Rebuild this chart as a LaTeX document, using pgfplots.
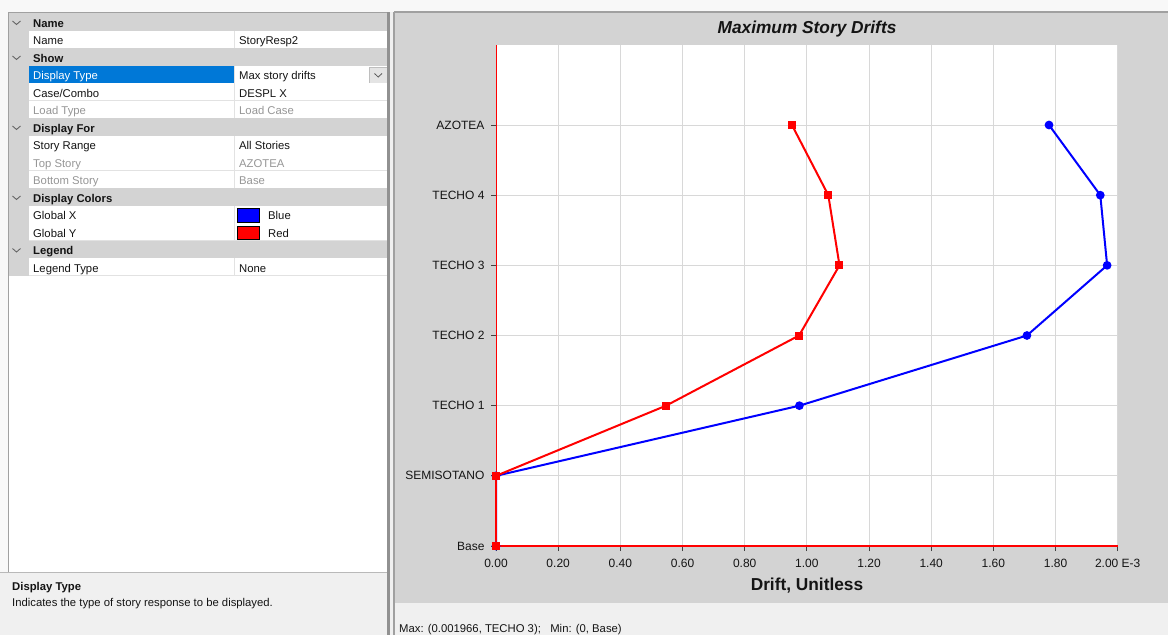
\documentclass[border=0pt]{standalone}
\usepackage{pgfplots}
\pgfplotsset{compat=1.18}
\usepackage{fontspec}
\setmainfont{Liberation Sans}

\definecolor{winbg}{RGB}{240,240,240}
\definecolor{pagebg}{RGB}{248,248,248}
\definecolor{panelgray}{RGB}{211,211,211}
\definecolor{rowline}{RGB}{226,226,226}
\definecolor{selblue}{RGB}{0,120,215}
\definecolor{dimtext}{RGB}{150,150,150}
\definecolor{frame}{RGB}{160,160,160}
\definecolor{splitter}{RGB}{145,145,145}
\definecolor{sepline}{RGB}{185,185,185}
\definecolor{btnfill}{RGB}{228,228,228}
\definecolor{btnedge}{RGB}{190,190,190}
\definecolor{gridg}{RGB}{216,216,216}
\definecolor{txt}{RGB}{20,20,20}

\newcommand\ui{\fontsize{11.3}{13}\selectfont}

% property grid: category header row (index, caption)
\newcommand\hdr[2]{%
  \fill[panelgray] (8,{13+17.5*#1}) rectangle (388,{30.5+17.5*#1});
  \draw[black!60, line width=0.9pt] (12.5,{21+17.5*#1}) -- (16.5,{24.5+17.5*#1}) -- (20.5,{21+17.5*#1});
  \node[anchor=base west, inner sep=0, font=\ui\bfseries, text=txt] at (33,{27.3+17.5*#1}) {#2};
}
% property grid: item row (index, name, value, text colour)
\newcommand\prow[4]{%
  \fill[white] (29,{13+17.5*#1}) rectangle (388,{30.5+17.5*#1});
  \draw[rowline, line width=0.8pt] (29,{30.5+17.5*#1}) -- (388,{30.5+17.5*#1});
  \draw[rowline, line width=0.8pt] (234,{13+17.5*#1}) -- (234,{30.5+17.5*#1});
  \node[anchor=base west, inner sep=0, font=\ui, text=#4] at (33,{27.3+17.5*#1}) {#2};
  \node[anchor=base west, inner sep=0, font=\ui, text=#4] at (239,{27.3+17.5*#1}) {#3};
}

\begin{document}
\begin{tikzpicture}
\path[use as bounding box] (0,0) rectangle (1168pt,-635pt);
\begin{scope}[x=1pt,y=-1pt]
  % window background
  \fill[pagebg] (0,0) rectangle (1168,635);
  % left panel
  \fill[white] (8,12) rectangle (388,572);
  \fill[panelgray] (8,13) rectangle (29,275.5);
  \hdr{0}{Name}
  \prow{1}{Name}{StoryResp2}{txt}
  \hdr{2}{Show}
  \prow{3}{Display Type}{Max story drifts}{txt}
  \fill[selblue] (29,65.5) rectangle (233.5,82.5);
  \node[anchor=base west, inner sep=0, font=\ui, text=white] at (33,79.8) {Display Type};
  \filldraw[fill=btnfill, draw=btnedge] (369.5,67) rectangle (387,83);
  \draw[black!65, line width=0.8pt] (374.5,73.5) -- (378.2,77) -- (382,73.5);
  \prow{4}{Case/Combo}{DESPL X}{txt}
  \prow{5}{Load Type}{Load Case}{dimtext}
  \hdr{6}{Display For}
  \prow{7}{Story Range}{All Stories}{txt}
  \prow{8}{Top Story}{AZOTEA}{dimtext}
  \prow{9}{Bottom Story}{Base}{dimtext}
  \hdr{10}{Display Colors}
  \prow{11}{Global X}{}{txt}
  \prow{12}{Global Y}{}{txt}
  \filldraw[fill=blue, draw=black, line width=0.8pt] (237.5,208.5) rectangle (259,222);
  \node[anchor=base west, inner sep=0, font=\ui, text=txt] at (268,219.8) {Blue};
  \filldraw[fill=red, draw=black, line width=0.8pt] (237.5,226) rectangle (259,239.5);
  \node[anchor=base west, inner sep=0, font=\ui, text=txt] at (268,237.3) {Red};
  \hdr{13}{Legend}
  \prow{14}{Legend Type}{None}{txt}
  \draw[frame, line width=0.8pt] (8,12) -- (388,12);
  \draw[frame, line width=0.8pt] (8,12) -- (8,572);
  % description box
  \fill[winbg] (0,573) rectangle (388,635);
  \draw[sepline, line width=1.2pt] (0,572.5) -- (388,572.5);
  \node[anchor=base west, inner sep=0, font=\ui\bfseries, text=txt] at (12,590.5) {Display Type};
  \node[anchor=base west, inner sep=0, font=\ui, text=txt] at (12,606) {Indicates the type of story response to be displayed.};
  % splitter
  \fill[splitter] (387.3,12) rectangle (390,635);
  \fill[winbg] (390,12) rectangle (393,635);
  % chart panel
  \fill[panelgray] (393,12) rectangle (1168,603);
  \fill[winbg] (393,603) rectangle (1168,635);
  \draw[frame, line width=1.6pt] (394,12) -- (394,635);
  \draw[frame, line width=1.2pt] (394,12) -- (1168,12);
  \node[anchor=base, inner sep=0, font=\fontsize{17.3}{20}\selectfont\bfseries\itshape, text=txt] at (807,33) {Maximum Story Drifts};
  \node[anchor=base, inner sep=0, font=\fontsize{17.3}{20}\selectfont\bfseries, text=txt] at (807,590.7) {Drift, Unitless};
  \node[anchor=base west, inner sep=0, font=\ui, text=txt] at (399,632.5) {Max: (0.001966, TECHO 3);\ \ \ Min: (0, Base)};
\end{scope}

\begin{axis}[
  at={(496pt,-546pt)}, anchor=south west,
  scale only axis, width=621.7pt, height=501pt,
  xmin=0, xmax=2, ymin=0, ymax=7.14,
  axis x line*=bottom, axis y line*=left,
  x axis line style={red, line width=1.3pt},
  y axis line style={red, line width=1pt},
  axis background/.style={fill=white},
  grid=major, major grid style={gridg, line width=0.9pt},
  tick align=outside, major tick length=5pt,
  tick style={black!75, line width=0.8pt},
  xtick={0,0.2,0.4,0.6,0.8,1.0,1.2,1.4,1.6,1.8,2.0},
  xticklabels={0.00,0.20,0.40,0.60,0.80,1.00,1.20,1.40,1.60,1.80,2.00 E-3},
  ytick={0,1,2,3,4,5,6},
  yticklabels={Base,SEMISOTANO,TECHO 1,TECHO 2,TECHO 3,TECHO 4,AZOTEA},
  ticklabel style={font=\fontsize{12}{14}\selectfont, text=txt},
  xticklabel style={yshift=-5pt},
  yticklabel style={xshift=-3pt},
  clip=false,
]
% Global X (blue)
\addplot[blue, line width=2pt, mark=*, mark size=3.3pt] coordinates {
  (0,0) (0,1) (0.976,2) (1.708,3) (1.966,4) (1.944,5) (1.779,6)
};
% Global Y (red)
\addplot[red, line width=2.6pt, mark=square*, mark size=3pt] coordinates {
  (0,0) (0,1)
};
\addplot[red, line width=2pt, mark=square*, mark size=3pt] coordinates {
  (0,1) (0.547,2) (0.975,3) (1.105,4) (1.069,5) (0.952,6)
};
\end{axis}
\end{tikzpicture}
\end{document}
